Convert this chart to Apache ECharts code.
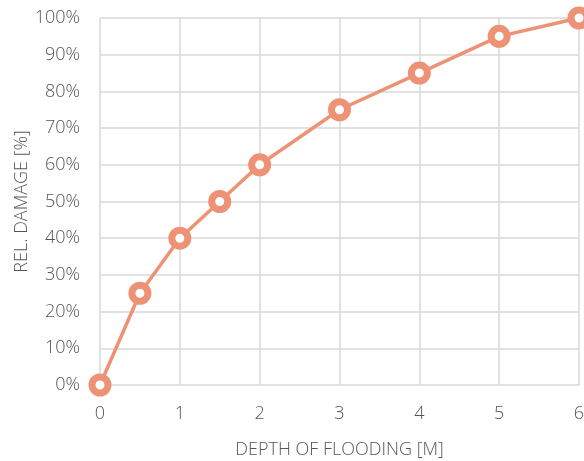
<!DOCTYPE html>
<html><head><meta charset="utf-8">
<script src="https://cdn.jsdelivr.net/npm/echarts@6/dist/echarts.min.js"></script>
<style>html,body{margin:0;padding:0;background:#fff}#c{width:584px;height:461px}</style>
</head><body><div id="c"></div>
<script>
const depth = [0, 0.5, 1, 1.5, 2, 3, 4, 5, 6];
const damage = [0, 25, 40, 50, 60, 75, 85, 95, 100];
const xName = 'DEPTH OF FLOODING [M]';
const yName = 'REL. DAMAGE [%]';
const chart = echarts.init(document.getElementById('c'), null, {renderer: 'canvas'});
const font = '"Open Sans", sans-serif';
const txt = '#555555';
const ts = {color: txt, fontFamily: font, fontSize: 18, fontWeight: 300};
chart.setOption({
  animation: false,
  grid: {left: 100, right: 5, top: 18, bottom: 76, containLabel: false, outerBoundsMode: 'none'},
  xAxis: {
    type: 'value', min: 0, max: 6, interval: 1,
    name: xName, nameLocation: 'middle', nameGap: 56, nameMoveOverlap: false,
    nameTextStyle: ts,
    axisLine: {show: false}, axisTick: {show: false},
    axisLabel: Object.assign({margin: 20}, ts),
    splitLine: {show: true, lineStyle: {color: '#d9d9d9', width: 1.5}}
  },
  yAxis: {
    type: 'value', min: 0, max: 100, interval: 10,
    name: yName, nameLocation: 'middle', nameGap: 69, nameMoveOverlap: false,
    nameTextStyle: ts,
    axisLine: {show: false}, axisTick: {show: false},
    axisLabel: Object.assign({margin: 20, formatter: '{value}%'}, ts),
    splitLine: {show: true, lineStyle: {color: '#d9d9d9', width: 1.5}}
  },
  series: [{
    type: 'line',
    data: depth.map((d, i) => [d, damage[i]]),
    lineStyle: {color: '#ee9276', width: 3.5},
    symbol: 'circle', symbolSize: 16,
    itemStyle: {color: '#fff', borderColor: '#ee9276', borderWidth: 7, opacity: 1},
    z: 3
  }]
});
</script></body></html>
